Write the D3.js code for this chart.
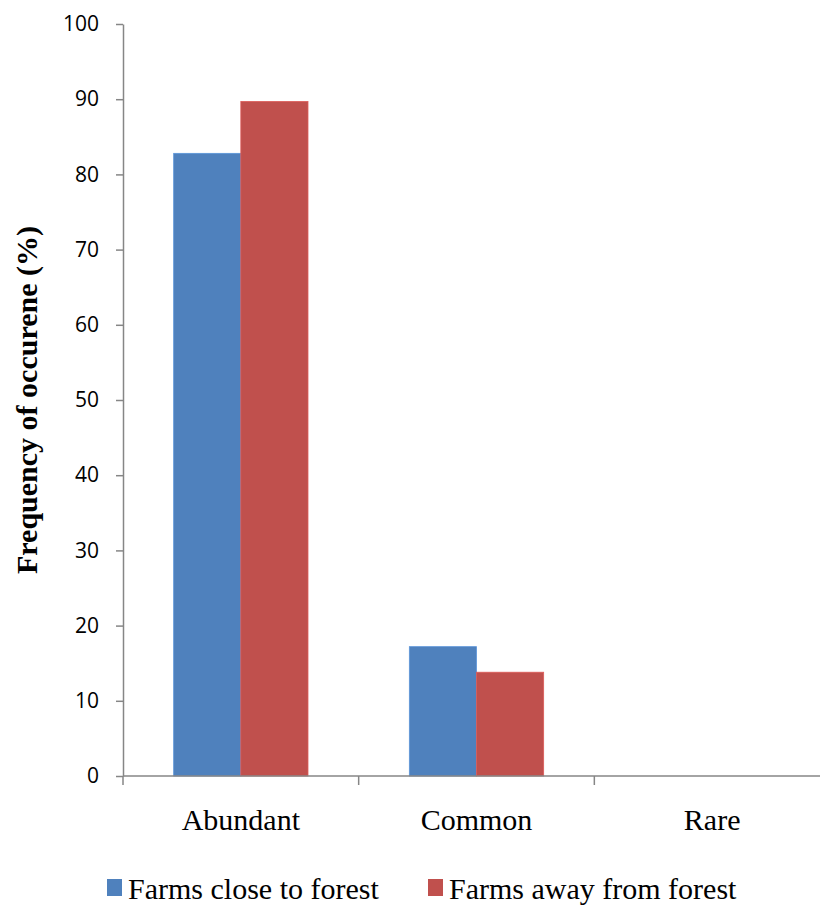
<!DOCTYPE html>
<meta charset="utf-8">
<style>
  body { margin: 0; background: #fff; }
</style>
<body>
<script src="https://d3js.org/d3.v7.min.js"></script>
<script>
  var categories = ["Abundant", "Common", "Rare"];
  var seriesNames = ["Farms close to forest", "Farms away from forest"];
  var closeValues = [82.8, 17.2, 0];
  var awayValues = [89.7, 13.8, 0];
  var yTicks = [0, 10, 20, 30, 40, 50, 60, 70, 80, 90, 100];
  var colors = ["#4f81bd", "#c0504d"];

  var serif = "'Liberation Serif', 'Times New Roman', serif";
  var sans = "'Open Sans', 'DejaVu Sans', sans-serif";
  var axisColor = "#868686";

  var margin = { top: 24, right: 0, bottom: 129, left: 123 },
    width = 830 - margin.left,
    height = 905 - margin.top - margin.bottom;

  var svg = d3.select("body").append("svg")
    .attr("width", 820)
    .attr("height", 905)
    .append("g")
    .attr("transform", "translate(" + margin.left + "," + margin.top + ")");

  var y = d3.scaleLinear().domain([0, 100]).range([height, 0]);

  var x = d3.scaleBand()
    .domain(categories)
    .range([0, width])
    .padding(0);

  var barW = x.bandwidth() * 0.285;
  var xs = d3.scaleBand()
    .domain(d3.range(seriesNames.length))
    .range([x.bandwidth() / 2 - barW, x.bandwidth() / 2 + barW]);

  var rows = categories.map(function (c, i) {
    return { cat: c, vals: [closeValues[i], awayValues[i]] };
  });

  // bars
  var groups = svg.selectAll(".grp")
    .data(rows)
    .enter().append("g")
    .attr("transform", function (d) { return "translate(" + x(d.cat) + ",0)"; });

  groups.selectAll("rect")
    .data(function (d) { return d.vals; })
    .enter().append("rect")
    .attr("x", function (d, i) { return xs(i); })
    .attr("width", xs.bandwidth())
    .attr("y", function (d) { return y(d); })
    .attr("height", function (d) { return height - y(d); })
    .attr("fill", function (d, i) { return colors[i]; })
    .attr("stroke", function (d, i) { return d > 0 ? d3.color(colors[i]).brighter(0.4) : "none"; })
    .attr("stroke-width", 0.8);

  // y axis
  var yAxis = svg.append("g")
    .call(d3.axisLeft(y).tickValues(yTicks).tickSize(7).tickPadding(17).tickSizeOuter(0));
  yAxis.selectAll("path, line").attr("stroke", axisColor).attr("stroke-width", 1.5);
  yAxis.selectAll("text")
    .style("font-family", sans)
    .style("font-size", "21px")
    .attr("fill", "#000");

  // x axis with ticks at band boundaries
  var xAxis = svg.append("g")
    .attr("transform", "translate(0," + height + ")");

  xAxis.append("line")
    .attr("x1", 0).attr("x2", width)
    .attr("stroke", axisColor)
    .attr("stroke-width", 1.5);

  var bounds = categories.map(function (c) { return x(c); }).concat([x.range()[1]]);
  xAxis.selectAll(".bt")
    .data(bounds)
    .enter().append("line")
    .attr("x1", function (d) { return d; })
    .attr("x2", function (d) { return d; })
    .attr("y1", 0).attr("y2", 9)
    .attr("stroke", axisColor)
    .attr("stroke-width", 1.5);

  xAxis.selectAll(".lbl")
    .data(categories)
    .enter().append("text")
    .attr("x", function (d) { return x(d) + x.bandwidth() / 2; })
    .attr("y", 54)
    .attr("text-anchor", "middle")
    .style("font-family", serif)
    .style("font-size", "30px")
    .text(function (d) { return d; });

  // y axis title
  svg.append("text")
    .attr("transform", "translate(" + (-86) + "," + (height / 2) + ") rotate(-90)")
    .attr("text-anchor", "middle")
    .style("font-family", serif)
    .style("font-weight", "bold")
    .style("font-size", "30px")
    .text("Frequency of occurene (%)");

  // legend
  var legend = d3.select("svg").append("g")
    .attr("transform", "translate(0,899)");
  var legendX = [107, 428];
  var items = legend.selectAll(".lg")
    .data(seriesNames)
    .enter().append("g")
    .attr("transform", function (d, i) { return "translate(" + legendX[i] + ",0)"; });
  items.append("rect")
    .attr("x", 0).attr("y", -20)
    .attr("width", 15).attr("height", 17)
    .attr("fill", function (d, i) { return colors[i]; });
  items.append("text")
    .attr("x", 21)
    .attr("y", 0)
    .style("font-family", serif)
    .style("font-size", "30px")
    .text(function (d) { return d; });
</script>
</body>
